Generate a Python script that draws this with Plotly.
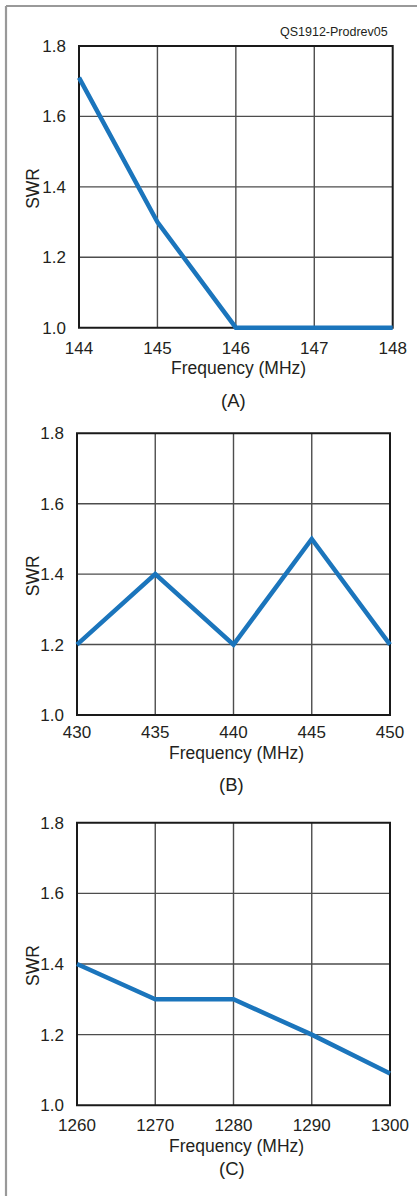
import plotly.graph_objects as go

W, H = 417, 1196

# ---- data ----
freq_a = [144, 145, 146, 147, 148]
swr_a = [1.71, 1.30, 1.00, 1.00, 1.00]
freq_b = [430, 435, 440, 445, 450]
swr_b = [1.20, 1.40, 1.20, 1.50, 1.20]
freq_c = [1260, 1270, 1280, 1290, 1300]
swr_c = [1.40, 1.30, 1.30, 1.20, 1.09]
swr_ticks = [1.0, 1.2, 1.4, 1.6, 1.8]
swr_tick_text = ["1.0", "1.2", "1.4", "1.6", "1.8"]
panel_labels = ["(A)", "(B)", "(C)"]
x_title = "Frequency (MHz)"
y_title = "SWR"
code_label = "QS1912-Prodrev05"

# ---- layout (pixel geometry of each panel frame: left, top, right, bottom) ----
frames = [(79, 46, 392.7, 327.7), (77, 433.3, 390, 715), (77, 822.7, 390, 1105.3)]
PAD = 4
tick_std = [4, 1, 4]
xtitle_y = [368, 753.3, 1145.7]
plabel_y = [400, 784, 1168.3]

LINE_COLOR = "#1B75BC"
GRID_COLOR = "#4d4d4d"
FRAME_COLOR = "#1a1a1a"
TEXT_COLOR = "#231F20"
FONT = "Liberation Sans, Arial, sans-serif"

series = [(freq_a, swr_a), (freq_b, swr_b), (freq_c, swr_c)]

fig = go.Figure()
shapes = []
annotations = []
layout_axes = {}

for i, ((fx, fy), (l, t, r, b)) in enumerate(zip(series, frames)):
    n = "" if i == 0 else str(i + 1)
    xa, ya = "x" + n, "y" + n
    x0, x1 = fx[0], fx[-1]
    y0, y1 = swr_ticks[0], swr_ticks[-1]
    ppx = (r - l) / (x1 - x0)
    ppy = (b - t) / (y1 - y0)
    layout_axes["xaxis" + n] = dict(
        domain=[(l - PAD) / W, (r + PAD) / W],
        range=[x0 - PAD / ppx, x1 + PAD / ppx],
        anchor=ya, tickvals=fx, ticktext=[str(v) for v in fx],
        showgrid=False, zeroline=False, showline=False, ticks="",
        automargin=False,
        ticklabelstandoff=tick_std[i],
        tickfont=dict(size=17, color=TEXT_COLOR, family=FONT),
        fixedrange=True,
    )
    layout_axes["yaxis" + n] = dict(
        domain=[1 - (b + PAD) / H, 1 - (t - PAD) / H],
        range=[y0 - PAD / ppy, y1 + PAD / ppy],
        anchor=xa, tickvals=swr_ticks, ticktext=swr_tick_text,
        showgrid=False, zeroline=False, showline=False, ticks="",
        automargin=False,
        ticklabelstandoff=8,
        tickfont=dict(size=17, color=TEXT_COLOR, family=FONT),
        fixedrange=True,
    )
    # grid lines (from tick values)
    for v in fx[1:-1]:
        shapes.append(dict(type="line", xref=xa, yref=ya, x0=v, x1=v, y0=y0, y1=y1,
                           line=dict(color=GRID_COLOR, width=1.4), layer="below"))
    for v in swr_ticks[1:-1]:
        shapes.append(dict(type="line", xref=xa, yref=ya, x0=x0, x1=x1, y0=v, y1=v,
                           line=dict(color=GRID_COLOR, width=1.4), layer="below"))
    shapes.append(dict(type="rect", xref=xa, yref=ya, x0=x0, x1=x1, y0=y0, y1=y1,
                       line=dict(color=FRAME_COLOR, width=2), layer="below"))
    fig.add_trace(go.Scatter(x=fx, y=fy, xaxis=xa, yaxis=ya, mode="lines",
                             line=dict(color=LINE_COLOR, width=4.5),
                             hoverinfo="skip", showlegend=False))
    cx = (l + r) / 2
    annotations.append(dict(text=x_title, xref="paper", yref="paper",
                            x=(cx + 3) / W, y=1 - xtitle_y[i] / H, showarrow=False,
                            xanchor="center", yanchor="middle",
                            font=dict(size=17.5, color=TEXT_COLOR, family=FONT)))
    annotations.append(dict(text=panel_labels[i], xref="paper", yref="paper",
                            x=(cx - 2) / W, y=1 - plabel_y[i] / H, showarrow=False,
                            xanchor="center", yanchor="middle",
                            font=dict(size=18.5, color=TEXT_COLOR, family=FONT)))
    annotations.append(dict(text=y_title, xref="paper", yref="paper",
                            x=33 / W, y=1 - ((t + b) / 2 + 2) / H, showarrow=False,
                            xanchor="center", yanchor="middle", textangle=-90,
                            font=dict(size=17.5, color=TEXT_COLOR, family=FONT)))

annotations.append(dict(text=code_label, xref="paper", yref="paper",
                        x=390 / W, y=1 - 32 / H, showarrow=False,
                        xanchor="right", yanchor="middle",
                        font=dict(size=12.5, color=TEXT_COLOR, family=FONT)))

# outer gray border (top and left edges visible in the crop)
shapes.append(dict(type="line", xref="paper", yref="paper", x0=6 / W, x1=1.05,
                   y0=1 - 6 / H, y1=1 - 6 / H, line=dict(color="#999999", width=2.2)))
shapes.append(dict(type="line", xref="paper", yref="paper", x0=6 / W, x1=6 / W,
                   y0=1 - 6 / H, y1=-0.05, line=dict(color="#999999", width=2.2)))

fig.update_layout(
    template="none",
    width=W, height=H, margin=dict(l=0, r=0, t=0, b=0, autoexpand=False),
    paper_bgcolor="white", plot_bgcolor="white",
    shapes=shapes, annotations=annotations, showlegend=False,
    font=dict(family=FONT, color=TEXT_COLOR),
    **layout_axes,
)

fig.write_html(
    "out.html",
    config={"displayModeBar": False},
    post_script="document.body.style.margin='0';document.body.style.overflow='hidden';",
)
